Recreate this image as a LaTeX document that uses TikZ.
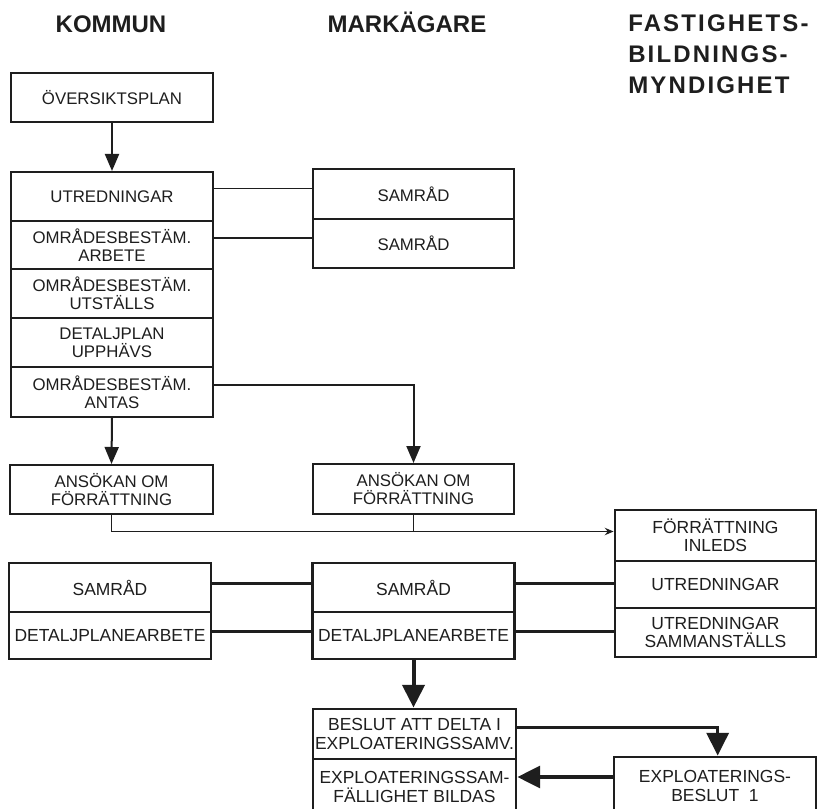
\documentclass[tikz,border=0pt]{standalone}
\usepackage{fontspec}
\setmainfont{Liberation Sans}
\usetikzlibrary{arrows.meta}
\definecolor{ink}{HTML}{1E1E1E}
\begin{document}
\begin{tikzpicture}[x=0.75pt,y=-0.75pt,
  cell/.style 2 args={draw=ink, line width=1.5pt, minimum width=#1*0.75pt,
    minimum height=#2*0.75pt, inner sep=0pt, align=center, text=ink,
    font=\fontsize{12.6}{13.5}\selectfont},
  heavy/.style={line width=2.2pt},
  bigtext/.style={font=\fontsize{13.1}{13.8}\selectfont},
  hdr/.style={text=ink, inner sep=0pt, font=\fontsize{18}{23.25}\selectfont\bfseries},
  thinline/.style={draw=ink, line width=1.3pt},
  thickline/.style={draw=ink, line width=2.2pt},
  midarrow/.style={draw=ink, line width=1.5pt, -{Triangle[length=12.75pt,width=10.5pt]}},
  smallarrow/.style={draw=ink, line width=1.3pt, -{Stealth[length=6.5pt,width=5.5pt]}},
  bigarrow/.style={draw=ink, line width=3pt, -{Triangle[length=17pt,width=16.5pt]}}
]
\useasboundingbox (0,0) rectangle (818,809);
\fill[white] (0,0) rectangle (818,809);
\clip (0,0) rectangle (818,809);

% headers
\node[hdr, anchor=base] (hk) at (111,33) {KOMMUN};
\node[hdr, anchor=base] (hm) at (407,33) {MARKÄGARE};
\node[hdr, anchor=north west, align=left,
  font=\fontsize{18}{23.25}\selectfont\bfseries\addfontfeature{LetterSpace=9}]
  (hf) at (628,14) {FASTIGHETS-\\BILDNINGS-\\MYNDIGHET};

% column 1 upper
\node[cell={202}{49}] (over) at (112,97.5) {ÖVERSIKTSPLAN};
\node[cell={202}{49}] (u1) at (112,196.5) {UTREDNINGAR};
\node[cell={202}{48}] (u2) at (112,245) {OMRÅDESBESTÄM.\\ARBETE};
\node[cell={202}{49}] (u3) at (112,293.5) {OMRÅDESBESTÄM.\\UTSTÄLLS};
\node[cell={202}{49}] (u4) at (112,342.5) {DETALJPLAN\\UPPHÄVS};
\node[cell={202}{50}] (u5) at (112,392) {OMRÅDESBESTÄM.\\ANTAS};

% column 2 upper
\node[cell={201}{50}] (s1) at (413.5,194) {SAMRÅD};
\node[cell={201}{49}] (s2) at (413.5,243.5) {SAMRÅD};

% ansökan
\node[cell={203}{49}] (a1) at (111.5,489.5) {ANSÖKAN OM\\FÖRRÄTTNING};
\node[cell={201}{50}] (a2) at (413.5,489) {ANSÖKAN OM\\FÖRRÄTTNING};

% lower rows
\node[cell={202}{49}, heavy, bigtext] (ks) at (110,587.5) {SAMRÅD};
\node[cell={202}{47}, heavy, bigtext] (kd) at (110,635.5) {DETALJPLANEARBETE};
\node[cell={202}{49}, heavy, bigtext] (ms) at (413.5,587.5) {SAMRÅD};
\node[cell={202}{47}, heavy, bigtext] (md) at (413.5,635.5) {DETALJPLANEARBETE};

\node[cell={201}{51}, heavy, bigtext] (f1) at (715.5,535.5) {FÖRRÄTTNING\\INLEDS};
\node[cell={201}{47}, heavy, bigtext] (f2) at (715.5,584.5) {UTREDNINGAR};
\node[cell={201}{49}, heavy, bigtext] (f3) at (715.5,632.5) {UTREDNINGAR\\SAMMANSTÄLLS};

% bottom
\node[cell={203}{50}, heavy, bigtext] (b1) at (414.5,734) {BESLUT ATT DELTA I\\EXPLOATERINGSSAMV.};
\node[cell={203}{56}, heavy, bigtext] (b2) at (414.5,787) {EXPLOATERINGSSAM-\\FÄLLIGHET BILDAS};
\node[cell={202}{58}, heavy, bigtext] (e1) at (715,786) {EXPLOATERINGS-\\BESLUT\ \ 1};

% connectors upper
\draw[midarrow] (over.south) -- (u1.north);
\coordinate (u1e) at ([yshift=6pt]u1.east);
\draw[thinline] (u1e) -- (u1e -| s1.west);
\coordinate (u2e) at ([yshift=5pt]u2.east);
\draw[thinline] (u2e) -- (u2e -| s2.west);
\coordinate (u5e) at ([yshift=5pt]u5.east);
\draw[midarrow] (u5e) -| (a2.north);
\draw[midarrow] (u5.south) -- (a1.north);

% ansökan to förrättning
\coordinate (fw) at ([yshift=3pt]f1.west);
\draw[smallarrow] (a1.south) |- (fw);
\draw[thinline] (a2.south) -- (a2.south |- fw);

% lower connectors
\coordinate (kse) at ([yshift=3pt]ks.east);
\draw[thickline] (kse) -- (kse -| ms.west);
\coordinate (kde) at ([yshift=3pt]kd.east);
\draw[thickline] (kde) -- (kde -| md.west);
\coordinate (mse) at ([yshift=3pt]ms.east);
\draw[thickline] (mse) -- (mse -| f2.west);
\coordinate (mde) at ([yshift=3pt]md.east);
\draw[thickline] (mde) -- (mde -| f3.west);

% bottom arrows
\draw[bigarrow] (md.south) -- (md.south |- b1.north);
\coordinate (b1e) at ([yshift=5pt]b1.east);
\draw[bigarrow, line width=2.4pt] (b1e) -| ([xshift=2pt]e1.north);
\coordinate (e1w) at ([yshift=6.75pt]e1.west);
\draw[bigarrow, line width=2.4pt] (e1w) -- (e1w -| b2.east);
\end{tikzpicture}
\end{document}
